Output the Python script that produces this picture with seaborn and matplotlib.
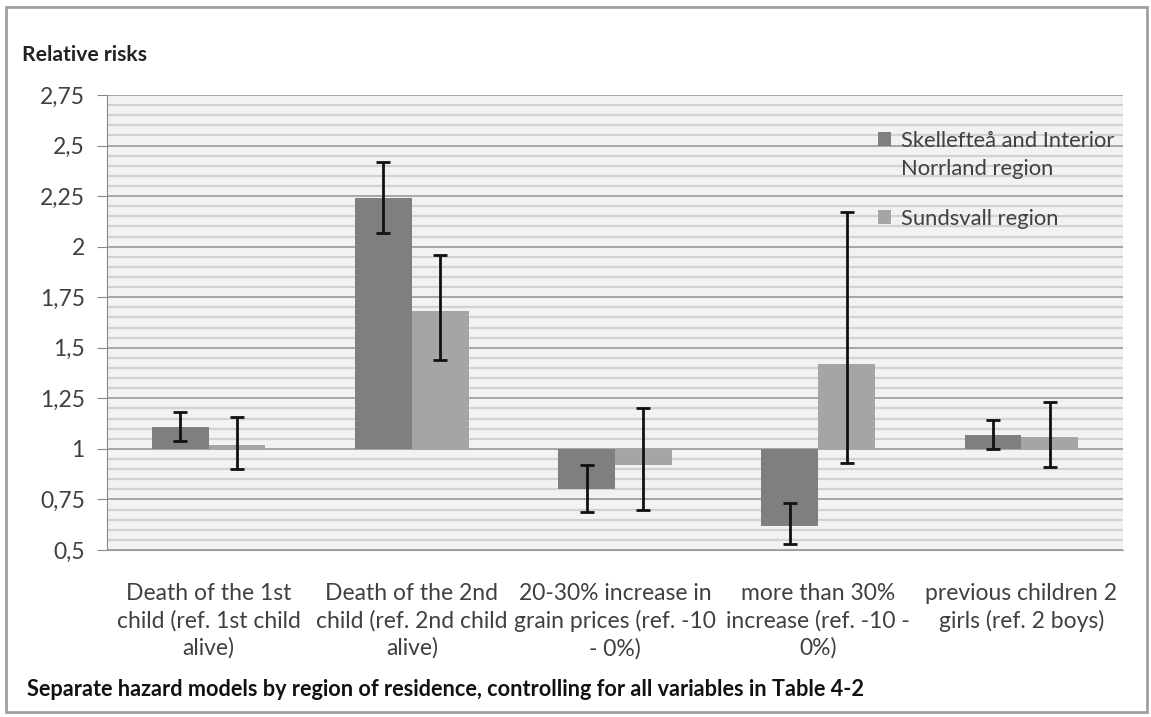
import matplotlib as mpl
mpl.use("Agg")
import matplotlib.pyplot as plt
import numpy as np
import pandas as pd
import seaborn as sns
from matplotlib.patches import Rectangle
from matplotlib.legend_handler import HandlerPatch
from matplotlib.ticker import MultipleLocator, FuncFormatter

categories = [
    "Death of the 1st\nchild (ref. 1st child\nalive)",
    "Death of the 2nd\nchild (ref. 2nd child\nalive)",
    "20-30% increase in\ngrain prices (ref. -10\n- 0%)",
    "more than 30%\nincrease (ref. -10 -\n0%)",
    "previous children 2\ngirls (ref. 2 boys)",
]
regions = ["Skellefteå and Interior\nNorrland region", "Sundsvall region"]

skel_rr = [1.11, 2.24, 0.80, 0.62, 1.07]
skel_lo = [1.04, 2.07, 0.69, 0.53, 1.00]
skel_hi = [1.18, 2.42, 0.92, 0.73, 1.145]

sund_rr = [1.02, 1.68, 0.92, 1.42, 1.06]
sund_lo = [0.90, 1.44, 0.70, 0.93, 0.91]
sund_hi = [1.16, 1.96, 1.20, 2.17, 1.23]

baseline = 1.0
colors = ["#7f7f7f", "#a5a5a5"]

df = pd.DataFrame({
    "cat": categories * 2,
    "region": [regions[0]] * 5 + [regions[1]] * 5,
    "rr": skel_rr + sund_rr,
})
df["delta"] = df["rr"] - baseline

sns.set_style("white")
plt.rcParams["font.family"] = ["Lato", "DejaVu Sans"]

fig = plt.figure(figsize=(11.51, 7.17), dpi=100)
ax = fig.add_axes([107 / 1151, 1 - 550 / 717, (1123 - 107) / 1151, 455 / 717])
ax.set_facecolor("#f2f2f2")

sns.barplot(data=df, x="cat", y="delta", hue="region", hue_order=regions,
            palette=colors, width=0.56, bottom=baseline, legend=False,
            errorbar=None, saturation=1, ax=ax, zorder=3, linewidth=0)

# error bars at bar centres
for cont, lo, hi, rr in zip(ax.containers, [skel_lo, sund_lo], [skel_hi, sund_hi], [skel_rr, sund_rr]):
    xs = [b.get_x() + b.get_width() / 2 for b in cont]
    rr = np.array(rr)
    yerr = [rr - np.array(lo), np.array(hi) - rr]
    ax.errorbar(xs, rr, yerr=yerr, fmt="none", ecolor="#111111", elinewidth=2,
                capsize=5, capthick=2, zorder=4)

ax.set_ylim(0.5, 2.75)
ax.set_xlim(-0.5, 4.5)
ax.yaxis.set_major_locator(MultipleLocator(0.25))
ax.yaxis.set_minor_locator(MultipleLocator(0.05))
ax.yaxis.set_major_formatter(FuncFormatter(lambda v, p: ("%g" % round(v, 2)).replace(".", ",")))
ax.grid(which="major", axis="y", color="#9a9a9a", linewidth=1.2, zorder=1)
ax.grid(which="minor", axis="y", color="#d2d2d2", linewidth=1.6, zorder=1)
ax.set_axisbelow(True)

ax.tick_params(axis="y", which="major", length=7, color="#888888", labelsize=16.5,
               labelcolor="#404040", pad=9, left=True)
ax.tick_params(axis="y", which="minor", length=0)
ax.tick_params(axis="x", length=0, labelsize=16.5, labelcolor="#404040", pad=24)
for t in ax.get_xticklabels():
    t.set_linespacing(1.33)

for s in ["top", "right"]:
    ax.spines[s].set_visible(False)
ax.spines["left"].set_color("#888888")
ax.spines["bottom"].set_color("#9a9a9a")
ax.set_xlabel("")
ax.set_ylabel("")


# square handle sitting on the first line of a two-line label
def top_square(legend, orig_handle, xdescent, ydescent, width, height, fontsize):
    lift = 0.72 * fontsize if "\n" in orig_handle.get_label() else 0
    return Rectangle((-xdescent, -ydescent + lift), width, height)


handles = [Rectangle((0, 0), 1, 1, facecolor=c, edgecolor="none", label=r)
           for c, r in zip(colors, regions)]
leg = ax.legend(handles, regions, loc="upper left", bbox_to_anchor=(0.748, 0.945),
                frameon=False, fontsize=15.8, handlelength=0.6, handleheight=0.6,
                handletextpad=0.45, labelspacing=1.35, borderpad=0, labelcolor="#404040",
                handler_map={Rectangle: HandlerPatch(patch_func=top_square)})
for t in leg.get_texts():
    t.set_linespacing(1.5)

fig.text(22 / 1151, 1 - 55 / 717, "Relative risks", fontsize=15.2, fontweight="bold",
         color="#222222", va="center")
fig.text(27 / 1151, 1 - 690 / 717,
         "Separate hazard models by region of residence, controlling for all variables in Table 4-2",
         fontsize=15.6, fontweight="bold", color="#111111", va="center")

fig.patches.append(Rectangle((6 / 1151, 1 - 712 / 717), 1141 / 1151, 705 / 717,
                             transform=fig.transFigure, fill=False,
                             edgecolor="#a0a0a0", linewidth=2))

plt.savefig("out.png", dpi=100)
